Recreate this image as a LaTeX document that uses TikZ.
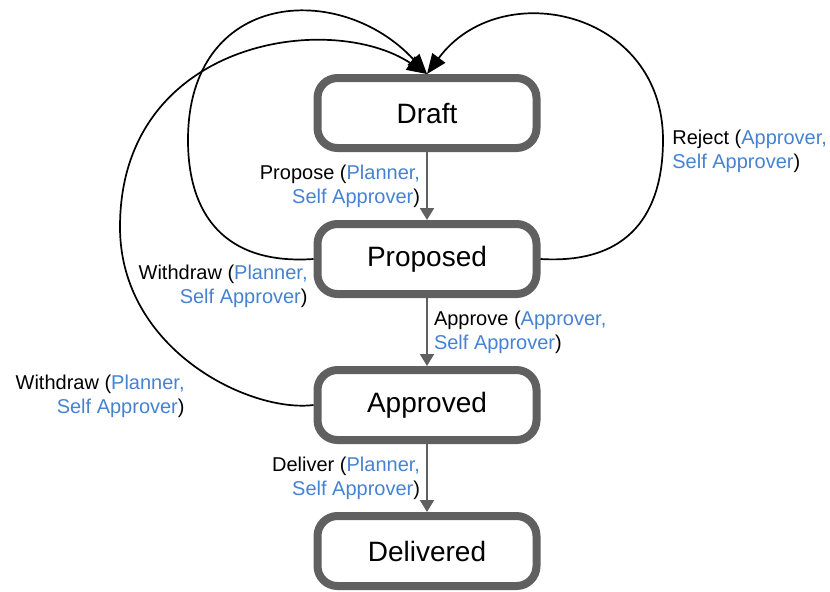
\documentclass[tikz,border=0pt]{standalone}
\usepackage{fontspec}
\setmainfont{Liberation Sans}
\usetikzlibrary{positioning,arrows.meta}
\definecolor{boxgray}{RGB}{96,96,96}
\definecolor{roleblue}{RGB}{70,130,210}
\newcommand{\role}[1]{\textcolor{roleblue}{#1}}

\begin{document}
\begin{tikzpicture}[x=0.5pt,y=-0.5pt,
    state/.style={draw=boxgray,line width=4pt,rounded corners=10pt,minimum width=109.5pt,minimum height=35pt,font=\fontsize{14}{16}\selectfont},
    flow/.style={draw=boxgray,line width=1pt,-{Triangle[width=7pt,length=6pt]}},
    back/.style={line width=0.85pt,-{Triangle[width=8pt,length=10pt]}},
    lbl/.style={font=\fontsize{10}{12}\selectfont,inner sep=3pt},
    node distance=34pt]
\useasboundingbox (0,0) rectangle (830,591);
\node[state] (draft) at (427,113) {Draft};
\node[state,below=of draft] (prop) {Proposed};
\node[state,below=of prop] (appr) {Approved};
\node[state,below=of appr] (deliv) {Delivered};
\draw[flow] (draft) -- node[lbl,left,align=right] (lpropose) {Propose (\role{Planner,}\\\role{Self Approver})} (prop);
\draw[flow] (prop) -- node[lbl,right,align=left] (lapprove) {Approve (\role{Approver,}\\\role{Self Approver})} (appr);
\draw[flow] (appr) -- node[lbl,left,align=right] (ldeliver) {Deliver (\role{Planner,}\\\role{Self Approver})} (deliv);
\draw[back] (prop.west) .. controls (225,265) and (188,215) .. (188,140) .. controls (188,-10) and (340,-20) .. (draft.north);
\draw[back] (appr.west) .. controls (250,413) and (120,350) .. (120,227) .. controls (120,40) and (330,10) .. (draft.north);
\draw[back] (prop.east) .. controls (640,265) and (663,200) .. (663,140) .. controls (663,10) and (500,-25) .. (draft.north);
\node[lbl,anchor=east,align=right] (lwdprop) at (314,286) {Withdraw (\role{Planner,}\\\role{Self Approver})};
\node[lbl,anchor=east,align=right] (lwdappr) at (191,396) {Withdraw (\role{Planner,}\\\role{Self Approver})};
\node[lbl,anchor=west,align=left] (lreject) at (666,151) {Reject (\role{Approver,}\\\role{Self Approver})};
\end{tikzpicture}
\end{document}
